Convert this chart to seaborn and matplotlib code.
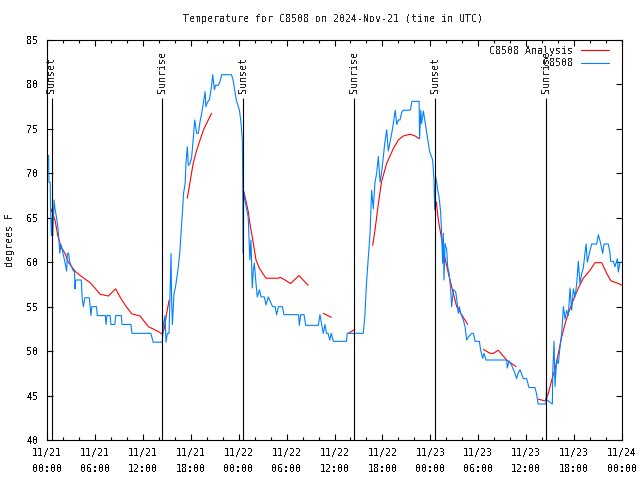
#!/usr/bin/env python3

import matplotlib

matplotlib.use("Agg")

import matplotlib.pyplot as plt  # type: ignore
import matplotlib.ticker as ticker  # type: ignore
import numpy as np
import pandas as pd
import seaborn as sns  # type: ignore

TITLE = "Temperature for C8508 on 2024-Nov-21 (time in UTC)"
OBS_LABEL = "C8508"
ANA_LABEL = "C8508 Analysis"

# hours since 2024-11-21 00:00 UTC, station observations (deg F)
obs_hours = [
    0.05, 0.2, 0.25, 0.4, 0.45, 0.55, 0.65, 0.72, 0.88, 1.0,
    1.2, 1.35, 1.5, 1.6, 1.75, 2.0, 2.25, 2.46, 2.55, 2.7,
    2.85, 3.3, 3.45, 3.5, 3.6, 4.3, 4.4, 4.55, 4.75, 5.3,
    5.4, 5.5, 5.6, 6.2, 6.3, 7.3, 7.4, 7.5, 7.9, 8.0,
    8.5, 8.6, 9.3, 9.4, 10.5, 10.65, 13.0, 13.3, 14.44,
    14.57, 14.78, 14.9, 15.07, 15.28, 15.4, 15.53, 15.6, 15.7, 15.9,
    16.1, 16.45, 16.66, 16.78, 16.95, 17.1, 17.3, 17.4, 17.57, 17.7,
    17.9, 18.1, 18.3, 18.5, 18.74, 18.95, 19.16, 19.37, 19.58, 19.79,
    19.9, 20.08, 20.33, 20.62, 20.75, 20.96, 21.1, 21.45, 21.66, 21.87,
    23.1, 23.3, 23.7, 24.1, 24.3, 24.46, 24.58,
    24.62, 24.79, 25.0, 25.2, 25.4, 25.54, 25.7, 25.84, 25.96, 26.17,
    26.34, 26.6, 26.8, 27.2, 27.42, 27.7, 28.0, 28.25, 28.55, 28.76,
    28.97, 29.47, 29.68, 31.5, 31.6, 31.76, 32.18, 32.4, 33.97, 34.18,
    34.39, 34.6, 34.8, 35.0, 35.2, 35.4, 35.6, 35.85, 37.5, 37.6,
    39.6,
    39.8, 40.0, 40.24, 40.45, 40.65, 40.86, 41.07, 41.28, 41.49, 41.7,
    41.9, 42.3, 42.53, 42.74, 42.95, 43.16, 43.37, 43.6, 43.8, 44.0,
    44.2, 44.4, 44.6, 45.5, 45.7, 46.6, 46.65, 46.8, 46.9, 47.13,
    47.55, 47.9, 48.29, 48.46, 48.54, 48.67, 48.79, 48.92, 49.08, 49.29,
    49.42, 49.54, 49.63, 49.71, 49.84, 50.05, 50.17, 50.34, 50.55, 50.67,
    50.88, 51.17, 51.3, 51.5, 51.63, 51.8, 52.13, 52.34, 52.55, 52.76,
    53.18, 53.39, 53.6, 54.14, 54.3, 54.55, 54.72, 54.97, 57.56, 57.64,
    57.85, 58.18, 58.6, 58.81, 59.02, 59.23, 59.44, 59.65, 60.06, 60.35,
    61.1, 61.3, 61.5, 62.48,
    62.55, 62.6, 63.28, 63.32, 63.49, 63.61, 63.82, 64.03, 64.24, 64.45,
    64.66, 64.87, 65.07, 65.28, 65.49, 65.7, 65.91, 66.12, 66.33, 66.53,
    66.74, 66.95, 67.16, 67.37, 67.5, 67.66, 67.91, 68.2, 68.83, 69.04,
    69.33, 69.58, 69.75, 70.29, 70.5, 70.58, 70.92, 71.12, 71.42, 71.54,
    71.75, 72.0,
]
obs_temps = [
    72, 72, 69, 69, 66, 63, 65, 63, 67, 66,
    65, 64, 62.5, 61, 62, 61, 60, 59, 61, 61,
    60, 59, 59, 57, 58, 58, 56, 55, 56, 56,
    55, 54, 55, 55, 54, 54, 53, 54, 54, 53,
    53, 54, 54, 53, 53, 52, 52, 51, 51,
    53, 54, 51, 52, 52, 56.5, 61, 56, 53, 56.5,
    57.25, 59.5, 61.4, 63.25, 65.5, 67.75, 68.9, 71.1, 73, 70.9,
    71.1, 71.7, 73.75, 76, 74.5, 74.5, 75.8, 76.75, 77.9, 79.2,
    77.5, 78, 78.25, 79.9, 81.1, 79.4, 79.9, 79.9, 80.3, 81.1,
    81.1, 80.5, 78.25, 77.1, 75.6, 73.75, 61,
    68, 67, 66, 65, 60.25, 62.5, 57.1, 59.1, 59.9, 57.6,
    56.1, 56.9, 56.1, 56.1, 55.2, 56.1, 55.5, 55, 55, 54.1,
    55, 55, 54.1, 54.1, 52.9, 54.1, 54.1, 52.9, 52.9, 54.1,
    53, 52, 53, 52, 52, 51.25, 52, 51.1, 51.1, 52,
    52,
    53.9, 57.6, 60.6, 63.25, 68.1, 66, 69, 70, 71.9, 69,
    70.1, 73.4, 74.9, 72.5, 73.5, 74.5, 75.6, 77.1, 75.5, 76,
    76, 76.8, 77.1, 77.1, 78.1, 78.1, 73.9, 77.1, 75.6, 77,
    74.5, 72.5, 71.5, 69.25, 65.9, 69.6, 69, 68.1, 67.4, 65.7,
    63.25, 59.9, 63.25, 58, 62.1, 61.4, 59.5, 58.8, 56.9, 55,
    56.9, 56.7, 55.9, 54.25, 55, 54.25, 53.5, 52.8, 51.25, 51.6,
    52, 52, 51.1, 51.1, 50.1, 49.2, 49.75, 49, 49, 48.1,
    48.9, 48.4, 47.5, 46.9, 47.6, 47.9, 47.4, 46.9, 46.9, 45.9,
    45.9, 45.2, 44.05, 44.05,
    46, 44.5, 44.05, 47.5, 51.1, 46, 49, 48.6, 50.5, 52,
    55, 53.6, 54.6, 54, 57.1, 54.6, 57, 56.1, 57.6, 60.1,
    57.6, 58.7, 59.4, 61, 62.05, 60, 61, 62.05, 62.05, 63.1,
    62.1, 61, 62.05, 62.05, 61, 60.1, 60.1, 59.5, 60.4, 58.9,
    60, 60,
]

# analysis (deg F), drawn as separate pieces with gaps between them
ana_hours = [
    0.5, 1.0, 1.35, 1.75, 2.25, 2.67, 3.5, 4.3, 5.4, 6.0,
    6.64, 7.68, 8.6, 9.14, 9.77, 10.6, 11.65, 12.7, 13.94, 14.44,
    14.65, 14.98, 15.3,
    17.57, 18.3, 18.74, 19.6, 20.6,
    24.58, 24.79, 25.2, 25.4, 25.84, 26.17, 26.6, 27.42, 28.97, 29.2,
    29.8, 30.5, 31.55, 32.7,
    34.6, 35.6,
    37.73, 38.56,
    40.78, 41.07, 41.49, 41.9, 42.53, 43.37, 44.0, 44.6, 45.5, 46.1,
    46.6,
    48.75, 49.0, 49.29, 49.71, 50.26, 50.67, 51.3, 51.92, 52.68,
    54.64, 55.47, 55.9, 56.5, 57.56, 58.73,
    61.5, 62.35, 62.77, 63.2, 63.6, 64.03, 64.45, 64.87, 65.28, 65.91,
    66.53, 67.16, 68.0, 68.62, 69.46, 70.08, 70.62, 71.25, 71.83, 72.0,
]
ana_temps = [
    66, 64.75, 63, 61.75, 61, 60, 59, 58.4, 57.7, 57.1,
    56.4, 56.2, 57.0, 56.1, 55.2, 54.2, 53.95, 52.75, 52.2, 51.9,
    52.4, 54.25, 55.75,
    67.2, 71.1, 72.6, 74.9, 76.75,
    68.1, 67.4, 65.7, 64.4, 62.1, 60.25, 59.3, 58.2, 58.2, 58.3,
    58.0, 57.6, 58.5, 57.4,
    54.25, 53.8,
    52.0, 52.45,
    61.9, 63.6, 66.6, 69.1, 71.1, 72.8, 73.75, 74.2, 74.4, 74.2,
    73.9,
    66.8, 64.75, 63.25, 61.0, 58.75, 57.25, 55.0, 54.1, 53.0,
    50.2, 49.75, 49.75, 50.1, 49.0, 48.25,
    44.6, 44.4, 45.2, 46.75, 47.9, 49.75, 51.6, 53.1, 54.25, 55.75,
    57.1, 58.2, 59.1, 59.95, 59.95, 58.75, 57.9, 57.7, 57.5, 57.4,
]
ana_piece = [0] * 23 + [1] * 5 + [2] * 14 + [3] * 2 + [4] * 2 + [5] * 11 + [6] * 9 + [7] * 6 + [8] * 20

sunset_hours = [0.58, 24.58, 48.6]
sunrise_hours = [14.43, 38.47, 62.47]

xtick_labels = [
    "11/21\n00:00", "11/21\n06:00", "11/21\n12:00", "11/21\n18:00",
    "11/22\n00:00", "11/22\n06:00", "11/22\n12:00", "11/22\n18:00",
    "11/23\n00:00", "11/23\n06:00", "11/23\n12:00", "11/23\n18:00",
    "11/24\n00:00",
]

RED = "#ff0000"
BLUE = "#0080ff"
FS = 7.2

sns.set_style("ticks")
plt.rcParams["font.family"] = ["DejaVu Sans Mono", "DejaVu Sans"]
plt.rcParams["font.size"] = FS
plt.rcParams["text.antialiased"] = False
plt.rcParams["axes.linewidth"] = 0.8
plt.rcParams["axes.edgecolor"] = "black"


def main() -> None:
    assert len(obs_hours) == len(obs_temps)
    assert len(ana_hours) == len(ana_temps) == len(ana_piece)

    obs = pd.DataFrame({"hour": obs_hours, "temp": obs_temps})
    ana = pd.DataFrame({"hour": ana_hours, "temp": ana_temps, "piece": ana_piece})

    fig = plt.figure(figsize=(6.4, 4.8), dpi=100)
    ax = fig.add_axes([47 / 640, 40 / 480, 575 / 640, 400 / 480])

    for i, (_, piece) in enumerate(ana.groupby("piece")):
        sns.lineplot(
            ax=ax, data=piece, x="hour", y="temp", color=RED,
            linewidth=0.8, estimator=None, sort=False,
            label=ANA_LABEL if i == 0 else None,
        )
    sns.lineplot(
        ax=ax, data=obs, x="hour", y="temp", color=BLUE,
        linewidth=0.8, estimator=None, sort=False, label=OBS_LABEL,
    )

    ax.set_xlim(0, 72)
    ax.set_ylim(40, 85)

    # sun lines
    top = 78.45
    ax.vlines(sunset_hours + sunrise_hours, 40, top, color="black", linewidth=0.8)
    for h in sunset_hours:
        ax.text(h, 79.0, "Sunset", rotation=90, ha="center", va="bottom", fontsize=FS)
    for h in sunrise_hours:
        ax.text(h, 79.0, "Sunrise", rotation=90, ha="center", va="bottom", fontsize=FS)

    ax.set_xticks(np.arange(0, 73, 6))
    ax.set_xticklabels(xtick_labels, linespacing=1.75)
    ax.xaxis.set_minor_locator(ticker.MultipleLocator(2))
    ax.set_yticks(np.arange(40, 86, 5))
    ax.tick_params(which="both", direction="in", top=True, right=True, width=0.8, colors="black")
    ax.tick_params(which="major", length=4)
    ax.tick_params(which="minor", length=2.5)
    ax.tick_params(axis="x", pad=6)
    ax.tick_params(axis="y", pad=6)
    for s in ax.spines.values():
        s.set_visible(True)
        s.set_linewidth(0.8)
    ax.set_xlabel("")
    ax.set_ylabel("")

    fig.text(10 / 640, 0.5, "degrees F", rotation=90, ha="center", va="center", fontsize=FS)
    fig.text(333 / 640, 1 - 19 / 480, TITLE, ha="center", va="center", fontsize=FS)

    # gnuplot-style key: right aligned text then the sample line
    handles, labels = ax.get_legend_handles_labels()
    width = max(len(t) for t in labels)
    ax.legend(
        handles, [t.rjust(width) for t in labels],
        loc="upper right", bbox_to_anchor=(1.0 - 7 / 575, 1.0), frameon=False,
        markerfirst=False, handlelength=2.8, handletextpad=0.8,
        labelspacing=0.25, borderaxespad=0.2, fontsize=FS,
    )

    fig.savefig("out.png", dpi=100)


if __name__ == "__main__":
    main()
